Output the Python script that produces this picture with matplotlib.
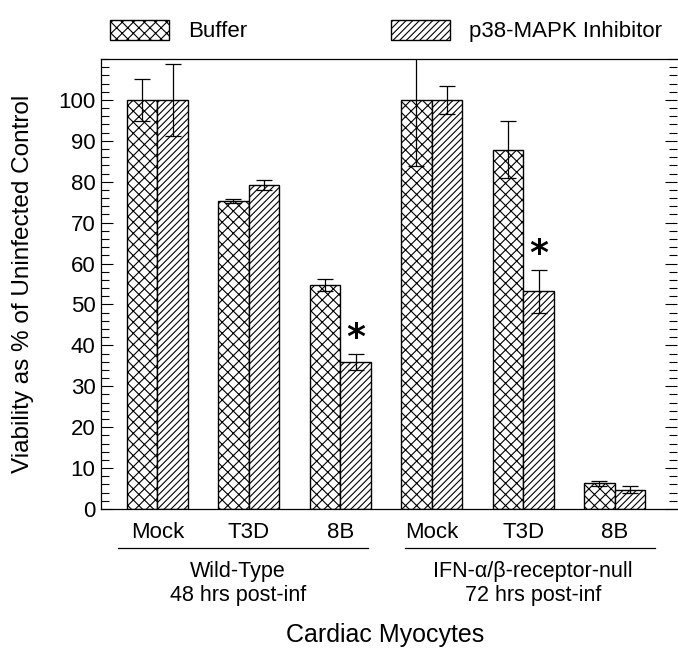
import numpy as np
import matplotlib
matplotlib.use("Agg")
import matplotlib.pyplot as plt
from matplotlib.patches import Patch
from matplotlib.ticker import MultipleLocator

plt.rcParams['font.family'] = ['Liberation Sans', 'DejaVu Sans']
plt.rcParams['hatch.linewidth'] = 0.8

# viability (% of uninfected control) per condition
conditions = ['Mock', 'T3D', '8B', 'Mock', 'T3D', '8B']
buffer_vals = [100, 75.3, 54.8, 100, 87.8, 6.3]
buffer_err = [5.2, 0.5, 1.5, 16.2, 7.0, 0.6]
inhib_vals = [100, 79.2, 35.9, 100, 53.2, 4.7]
inhib_err = [8.8, 1.2, 2.0, 3.4, 5.3, 0.9]
significant = [False, False, True, False, True, False]
group_names = ['Wild-Type', 'IFN-α/β-receptor-null']
group_times = ['48 hrs post-inf', '72 hrs post-inf']

W, H = 678, 650
fig = plt.figure(figsize=(W / 100, H / 100), dpi=100)
ax = fig.add_axes([101 / W, 1 - 509 / H, 576 / W, 450 / H])

x = np.arange(len(conditions))
w = 0.335
ax.bar(x - w / 2, buffer_vals, w, color='white', edgecolor='black', linewidth=1, hatch='xxx')
ax.bar(x + w / 2, inhib_vals, w, color='white', edgecolor='black', linewidth=1, hatch='/////')
ax.errorbar(x - w / 2, buffer_vals, yerr=buffer_err, fmt='none', ecolor='black',
            elinewidth=0.9, capsize=6, capthick=0.9)
ax.errorbar(x + w / 2, inhib_vals, yerr=inhib_err, fmt='none', ecolor='black',
            elinewidth=0.9, capsize=6, capthick=0.9)

# asterisks over significant inhibitor bars
for i, sig in enumerate(significant):
    if sig:
        ax.text(x[i] + w / 2, inhib_vals[i] + inhib_err[i] + 3.8, '*', ha='center', va='center',
                fontsize=26, fontweight='bold', family='DejaVu Sans')

ax.set_xlim(-0.615, 5.68)
ax.set_ylim(0, 110)
ax.yaxis.set_major_locator(MultipleLocator(10))
ax.yaxis.set_minor_locator(MultipleLocator(2))
ax.set_yticks(np.arange(0, 101, 10))
ax.tick_params(axis='y', which='both', direction='in', right=True, labelsize=16, pad=4)
ax.tick_params(axis='y', which='major', length=8.4, width=0.8)
ax.tick_params(axis='y', which='minor', length=6, width=0.8)
ax.set_xticks(x)
ax.set_xticklabels(conditions, fontsize=16)
ax.tick_params(axis='x', length=0, pad=9)
ax.spines['right'].set_visible(False)
for s in ['left', 'top', 'bottom']:
    ax.spines[s].set_linewidth(0.9)

fig.text(23 / W, 1 - 284 / H, 'Viability as % of Uninfected Control', rotation=90,
         ha='center', va='center', fontsize=17.5)

# group brackets and labels under the axis
for lo, hi, cx, name, t in [(118, 368, 238, group_names[0], group_times[0]),
                            (405, 655, 533, group_names[1], group_times[1])]:
    fig.add_artist(plt.Line2D([lo / W, hi / W], [1 - 548 / H] * 2, color='black', lw=0.9))
    fig.text(cx / W, 1 - 572 / H, name, ha='center', va='center', fontsize=15.5)
    fig.text(cx / W, 1 - 595 / H, t, ha='center', va='center', fontsize=15.5)
fig.text(385 / W, 1 - 635 / H, 'Cardiac Myocytes', ha='center', va='center', fontsize=18)

handles = [Patch(facecolor='white', edgecolor='black', hatch='xxx', label='Buffer'),
           Patch(facecolor='white', edgecolor='black', hatch='/////', label='p38-MAPK Inhibitor')]
fig.legend(handles=handles, loc='center left', bbox_to_anchor=(110 / W, 1 - 31 / H), ncol=2,
           frameon=False, fontsize=16, handlelength=2.65, handleheight=1.0,
           handletextpad=0.85, columnspacing=6.5, borderaxespad=0, borderpad=0)

fig.savefig('out.png', dpi=100)
